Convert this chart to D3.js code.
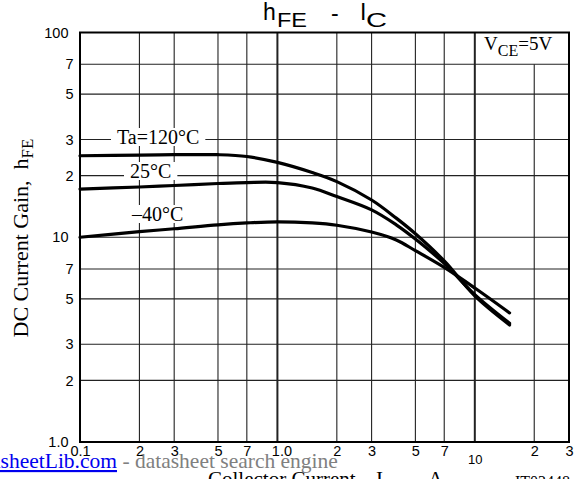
<!DOCTYPE html>
<html>
<head>
<meta charset="utf-8">
<script src="https://cdn.jsdelivr.net/npm/d3@7"></script>
<style>
body{margin:0;background:#fff;}
svg{display:block;}
.serif{font-family:"Liberation Serif","Times New Roman",serif;}
.sans{font-family:"Liberation Sans",Arial,sans-serif;}
</style>
</head>
<body>
<div id="main"></div>
<script>
// collector current (A)
var ic_values = [0.1,0.2,0.3,0.5,0.7,1.0,1.5,2,3,4,5,7,10,15];
// hFE for each temperature
var hfe_120 = [25,25.2,25.3,25.3,24.8,23.2,20.7,18.7,15.2,12.4,10.4,7.66,5.17,3.73];
var hfe_25  = [17.2,17.6,17.9,18.3,18.5,18.5,17.4,15.8,13.6,11.5,9.8,7.45,5.24,3.8];
var hfe_m40 = [10.0,10.65,11.0,11.5,11.75,11.9,11.75,11.45,10.6,9.7,8.6,7.12,5.65,4.27];

var x_ticks = [0.1,0.2,0.3,0.5,0.7,1,2,3,5,7,10,20,30];
var x_tick_labels = ["0.1","2","3","5","7","1.0","2","3","5","7","10","2","3"];
var y_ticks = [1,2,3,5,7,10,20,30,50,70,100];
var y_tick_labels = ["1.0","2","3","5","7","10","2","3","5","7","100"];
var x_grid = [0.2,0.3,0.5,0.7,1,2,3,5,7,10,20];
var y_grid = [2,3,5,7,10,20,30,50,70];

function draw_chart(){
	var W = 580, H = 479;
	var p_left = 80, p_right = 569, p_top = 32.5, p_bottom = 442;

	var svg = d3.select("#main").append("svg").attr("width",W).attr("height",H);

	var x = d3.scaleLog().domain([0.1,30]).range([p_left,p_right]);
	var y = d3.scaleLog().domain([1,100]).range([p_bottom,p_top]);

	// grid
	var grid = svg.append("g").attr("stroke","#222");
	grid.selectAll("line.v").data(x_grid).enter().append("line")
		.attr("class","v")
		.attr("x1",function(d){return x(d);}).attr("x2",function(d){return x(d);})
		.attr("y1",function(d){return d==20 ? y(70) : p_top;}).attr("y2",p_bottom)
		.attr("stroke-width",function(d){return (d==1||d==10) ? 2 : 1.1;});
	grid.selectAll("line.h").data(y_grid).enter().append("line")
		.attr("class","h")
		.attr("x1",p_left).attr("x2",p_right)
		.attr("y1",function(d){return y(d);}).attr("y2",function(d){return y(d);})
		.attr("stroke-width",1.1);

	svg.append("rect").attr("x",p_left).attr("y",p_top)
		.attr("width",p_right-p_left).attr("height",p_bottom-p_top)
		.attr("fill","none").attr("stroke","#000").attr("stroke-width",2);

	// tick labels via axes
	var x_axis = d3.axisBottom(x).tickValues(x_ticks).tickSize(0)
		.tickFormat(function(d,i){return x_tick_labels[i];});
	var gx = svg.append("g").attr("transform","translate(0,"+p_bottom+")").call(x_axis);
	gx.select(".domain").remove();
	gx.selectAll("text").attr("class","sans").attr("fill","#000")
		.style("font-size",function(d){return d==10 ? "13px" : "14.5px";})
		.attr("y",function(d){return d==10 ? 13 : 4;})
		.attr("dx",function(d){return d==1 ? 4 : 0;});

	var y_axis = d3.axisLeft(y).tickValues(y_ticks).tickSize(0)
		.tickFormat(function(d,i){return y_tick_labels[i];});
	var gy = svg.append("g").attr("transform","translate("+p_left+",0)").call(y_axis);
	gy.select(".domain").remove();
	gy.selectAll("text").attr("class","sans").attr("fill","#000").style("font-size","14.5px")
		.attr("x",function(d,i){return y_tick_labels[i].length>1 ? -11.5 : -6.5;});

	// curves
	var line = d3.line()
		.x(function(d){return x(d[0]);})
		.y(function(d){return y(d[1]);})
		.curve(d3.curveCatmullRom.alpha(0.5));

	[hfe_120,hfe_25,hfe_m40].forEach(function(series){
		svg.append("path")
			.datum(ic_values.map(function(v,i){return [v,series[i]];}))
			.attr("d",line)
			.attr("fill","none").attr("stroke","#000").attr("stroke-width",3.2)
			.attr("stroke-linecap","round");
	});

	// curve labels with white backing
	function curve_label(txt,xx,yy){
		var g = svg.append("g");
		var t = g.append("text").attr("class","serif").attr("x",xx).attr("y",yy)
			.style("font-size","20px").attr("fill","#000").text(txt);
		var b = t.node().getBBox();
		g.insert("rect","text").attr("x",b.x-6).attr("y",b.y+2)
			.attr("width",b.width+12).attr("height",b.height-4).attr("fill","#fff");
	}
	curve_label("Ta=120°C",117,144);
	curve_label("25°C",130,178);
	curve_label("\u201340°C",132,221);

	// title
	var title = svg.append("g").attr("class","sans").attr("fill","#000");
	title.append("text").attr("x",263).attr("y",20).style("font-size","23px").text("h");
	title.append("text").attr("x",277).attr("y",27).style("font-size","20px")
		.attr("textLength",30).attr("lengthAdjust","spacingAndGlyphs").text("FE");
	title.append("text").attr("x",331).attr("y",21).style("font-size","23px").text("-");
	title.append("text").attr("x",360).attr("y",20).style("font-size","23px").text("I");
	title.append("text").attr("x",366).attr("y",27).style("font-size","20px")
		.attr("textLength",21).attr("lengthAdjust","spacingAndGlyphs").text("C");

	// condition label
	var vce = svg.append("text").attr("class","serif").attr("y",50).attr("fill","#000")
		.style("font-size","19px");
	vce.append("tspan").attr("x",484).text("V");
	vce.append("tspan").attr("dy",6).style("font-size","16px").text("CE");
	vce.append("tspan").attr("dy",-6).text("=5V");

	// y axis title
	var ylab = svg.append("text").attr("class","serif")
		.attr("transform","translate(28,238) rotate(-90)")
		.attr("text-anchor","middle").attr("fill","#000")
		.style("font-size","22px").style("white-space","pre");
	ylab.append("tspan").text("DC Current Gain,  h");
	ylab.append("tspan").attr("dy",5).style("font-size","17px").text("FE");

	// x axis title (mostly cut off at bottom)
	var xlab = svg.append("text").attr("class","serif").attr("y",486).attr("fill","#000")
		.style("font-size","21px");
	xlab.append("tspan").attr("x",208).text("Collector Current ,");
	xlab.append("tspan").attr("x",376).text("I");
	xlab.append("tspan").attr("dy",5).style("font-size","16px").text("C");
	xlab.append("tspan").attr("x",396).attr("dy",-5).text("\u2014");
	xlab.append("tspan").attr("x",428).text("A");

	svg.append("text").attr("class","serif").attr("x",515).attr("y",487)
		.style("font-size","16px").attr("fill","#000").text("IT03448");

	// watermark overlay
	var wm = svg.append("text").attr("class","serif").attr("x",-40).attr("y",468)
		.style("font-size","21.5px").style("white-space","pre");
	wm.append("tspan").attr("fill","#0000ee").style("text-decoration","underline")
		.text("DatasheetLib.com");
	wm.append("tspan").attr("fill","#808080").text(" - datasheet search engine");
}

draw_chart();
</script>
</body>
</html>
